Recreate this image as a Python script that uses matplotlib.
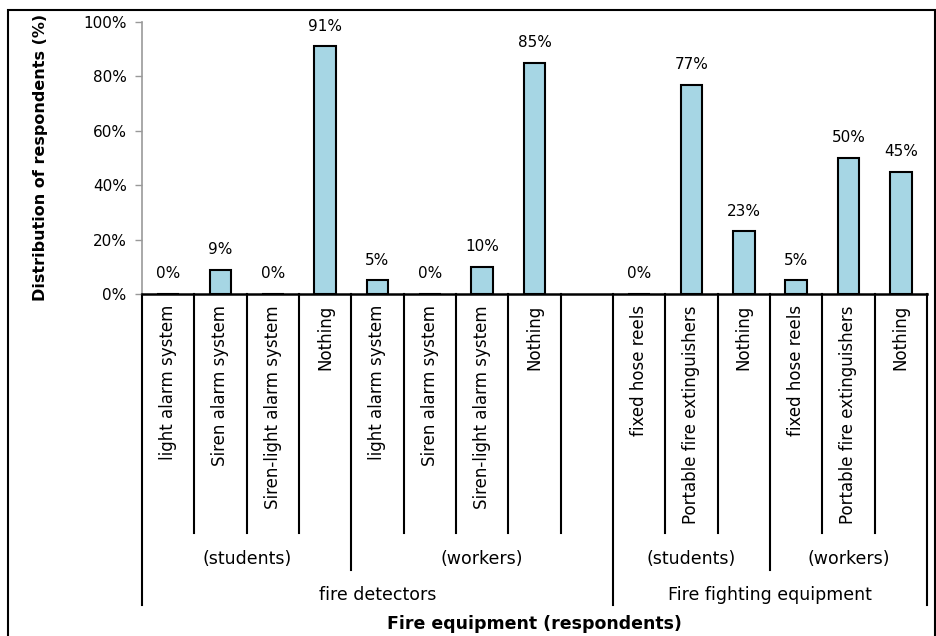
import numpy as np
import matplotlib
matplotlib.use("Agg")
import matplotlib.pyplot as plt
from matplotlib.patches import Rectangle

# Bar categories (one empty slot between the two equipment groups)
categories = ["light alarm system", "Siren alarm system", "Siren-light alarm system", "Nothing",
              "light alarm system", "Siren alarm system", "Siren-light alarm system", "Nothing",
              "",
              "fixed hose reels", "Portable fire extinguishers", "Nothing",
              "fixed hose reels", "Portable fire extinguishers", "Nothing"]
values = [0, 9, 0, 91, 5, 0, 10, 85, np.nan, 0, 77, 23, 5, 50, 45]

# (label, first index, end index)
respondent_groups = [("(students)", 0, 4), ("(workers)", 4, 9),
                     ("(students)", 9, 12), ("(workers)", 12, 15)]
equipment_groups = [("fire detectors", 0, 9), ("Fire fighting equipment", 9, 15)]

W, H = 937, 636
fig = plt.figure(figsize=(W / 100, H / 100), dpi=100)
plt.rcParams["font.family"] = "DejaVu Sans"

# frame around the whole chart
fig.patches.append(Rectangle((8 / W, -0.01), (935 - 8) / W, 1 - 10 / H + 0.01,
                             transform=fig.transFigure, fill=False,
                             edgecolor="black", linewidth=1.5))

left, right, top, bottom = 142, 927, 22, 294
ax = fig.add_axes([left / W, 1 - bottom / H, (right - left) / W, (bottom - top) / H])

x = np.arange(len(categories))
ax.bar(x, values, width=0.42, color="#a6d6e4", edgecolor="black", linewidth=1.5, zorder=3)

for xi, v in zip(x, values):
    if np.isnan(v):
        continue
    ax.annotate(f"{v:.0f}%", (xi, v), xytext=(0, 9), textcoords="offset points",
                ha="center", va="bottom", fontsize=11)

ax.set_xlim(-0.5, len(categories) - 0.5)
ax.set_ylim(0, 100)
ax.set_yticks(range(0, 101, 20))
ax.set_yticklabels([f"{t}%" for t in range(0, 101, 20)], fontsize=11)
ax.tick_params(axis="y", color="#999999", length=5, width=1, pad=6)
ax.set_xticks([])
for s in ("top", "right"):
    ax.spines[s].set_visible(False)
ax.spines["left"].set_color("#999999")
ax.spines["left"].set_linewidth(1.2)
ax.spines["bottom"].set_linewidth(1.8)

# multi-level category axis
ph = bottom - top
short_end = -(533 - bottom) / ph
mid_end = -(570 - bottom) / ph
long_end = -(605 - bottom) / ph
trans = ax.get_xaxis_transform()

long_b = {g[1] for g in equipment_groups} | {g[2] for g in equipment_groups}
mid_b = {g[1] for g in respondent_groups} | {g[2] for g in respondent_groups}
for b in range(len(categories) + 1):
    if b in long_b:
        y_end = long_end
    elif b in mid_b:
        y_end = mid_end
    else:
        y_end = short_end
    ax.plot([b - 0.5, b - 0.5], [0, y_end], color="black", linewidth=1.5,
            transform=trans, clip_on=False)

for xi, name in zip(x, categories):
    ax.text(xi, -(305 - bottom) / ph, name, rotation=90, ha="center", va="top",
            fontsize=12, transform=trans)

for name, a, b in respondent_groups:
    ax.text((a + b - 1) / 2, -(559 - bottom) / ph, name, ha="center", va="center",
            fontsize=12.5, transform=trans)
for name, a, b in equipment_groups:
    ax.text((a + b - 1) / 2, -(595 - bottom) / ph, name, ha="center", va="center",
            fontsize=12.5, transform=trans)

fig.text(534 / W, 1 - 624 / H, "Fire equipment (respondents)", ha="center", va="center",
         fontsize=12.5, fontweight="bold")
fig.text(41 / W, 1 - 157 / H, "Distribution of respondents (%)", ha="center", va="center",
         rotation=90, fontsize=11.5, fontweight="bold")

fig.savefig("out.png", dpi=100)
